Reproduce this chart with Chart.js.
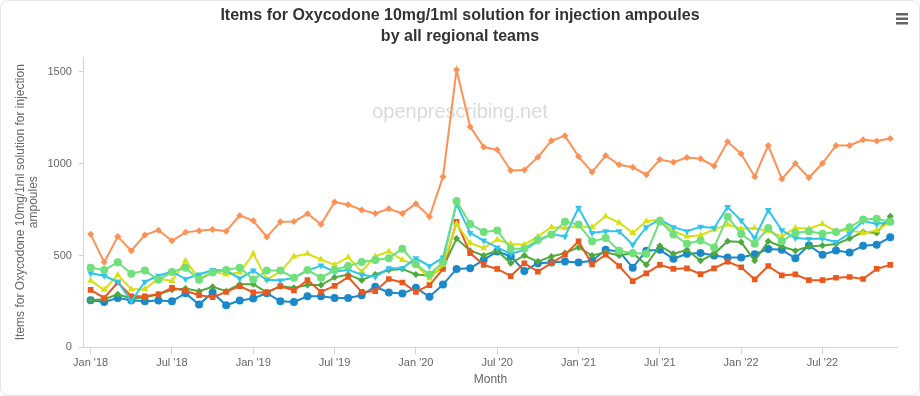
<!DOCTYPE html>
<html>
<head>
<meta charset="utf-8">
<script src="https://cdn.jsdelivr.net/npm/chart.js@4.4.1/dist/chart.umd.min.js"></script>
<style>
  html, body { margin: 0; padding: 0; background: #fff; }
  #wrap {
    position: relative; width: 920px; height: 396px; box-sizing: border-box;
    border: 1px solid #e4e4e4; border-radius: 8px; overflow: hidden;
  }
  #chart { position: absolute; left: 0; top: 0; }
</style>
</head>
<body>
<div id="wrap"><canvas id="chart" width="918" height="394"></canvas></div>
<script>
// месяцы Jan 2018 .. Dec 2022
const months = [
    'Jan 2018', 'Feb 2018', 'Mar 2018', 'Apr 2018', 'May 2018', 'Jun 2018', 'Jul 2018', 'Aug 2018', 'Sep 2018', 'Oct 2018', 'Nov 2018', 'Dec 2018',
    'Jan 2019', 'Feb 2019', 'Mar 2019', 'Apr 2019', 'May 2019', 'Jun 2019', 'Jul 2019', 'Aug 2019', 'Sep 2019', 'Oct 2019', 'Nov 2019', 'Dec 2019',
    'Jan 2020', 'Feb 2020', 'Mar 2020', 'Apr 2020', 'May 2020', 'Jun 2020', 'Jul 2020', 'Aug 2020', 'Sep 2020', 'Oct 2020', 'Nov 2020', 'Dec 2020',
    'Jan 2021', 'Feb 2021', 'Mar 2021', 'Apr 2021', 'May 2021', 'Jun 2021', 'Jul 2021', 'Aug 2021', 'Sep 2021', 'Oct 2021', 'Nov 2021', 'Dec 2021',
    'Jan 2022', 'Feb 2022', 'Mar 2022', 'Apr 2022', 'May 2022', 'Jun 2022', 'Jul 2022', 'Aug 2022', 'Sep 2022', 'Oct 2022', 'Nov 2022', 'Dec 2022'
];
const tickLabels = ["Jan '18", "Jul '18", "Jan '19", "Jul '19", "Jan '20", "Jul '20", "Jan '21", "Jul '21", "Jan '22", "Jul '22"];
const yTicks = [0, 500, 1000, 1500];
const titleLines = ['Items for Oxycodone 10mg/1ml solution for injection ampoules', 'by all regional teams'];

// значения по регионам
const eastOfEngland = [
    256, 247, 269, 256, 251, 255, 251, 295, 233, 299, 229, 255, 266, 295, 251, 247, 278, 278, 269, 269,
    284, 330, 299, 293, 324, 275, 342, 427, 430, 476, 522, 495, 416, 458, 462, 467, 462, 471, 531, 522,
    434, 526, 531, 482, 509, 513, 500, 489, 489, 507, 535, 531, 485, 555, 504, 527, 516, 553, 559, 599
];
const london = [
    256, 262, 289, 266, 271, 289, 313, 321, 306, 330, 306, 344, 344, 299, 333, 324, 339, 339, 381, 397,
    366, 397, 421, 427, 397, 390, 434, 592, 526, 500, 526, 458, 500, 467, 495, 513, 544, 500, 518, 500,
    513, 449, 553, 509, 531, 471, 509, 577, 573, 471, 577, 549, 526, 549, 555, 562, 592, 628, 623, 714
];
const midlands = [
    313, 269, 353, 278, 278, 289, 324, 308, 284, 273, 302, 333, 299, 299, 333, 310, 366, 302, 335, 383,
    302, 306, 372, 353, 302, 339, 427, 683, 513, 449, 427, 388, 458, 412, 458, 504, 577, 452, 504, 443,
    361, 403, 449, 427, 430, 399, 430, 467, 436, 370, 443, 392, 397, 366, 366, 379, 383, 372, 427, 449
];
const northEastYorkshire = [
    363, 313, 394, 317, 317, 375, 361, 471, 375, 412, 397, 407, 509, 370, 412, 495, 509, 478, 449, 491,
    412, 495, 522, 476, 449, 375, 449, 672, 568, 540, 586, 562, 559, 604, 654, 650, 659, 654, 714, 678,
    623, 687, 696, 632, 604, 610, 641, 668, 646, 650, 632, 604, 650, 646, 672, 632, 637, 623, 636, 683
];
const northWest = [
    403, 390, 357, 251, 357, 390, 412, 372, 397, 421, 418, 375, 418, 368, 364, 379, 418, 445, 412, 423,
    395, 385, 430, 430, 485, 443, 489, 780, 623, 581, 544, 509, 531, 577, 617, 604, 760, 623, 632, 632,
    559, 654, 696, 654, 632, 656, 650, 764, 690, 595, 747, 637, 595, 590, 592, 573, 619, 687, 672, 683
];
const southEast = [
    434, 421, 463, 401, 418, 368, 410, 434, 368, 408, 421, 434, 370, 418, 418, 379, 421, 379, 421, 443,
    465, 476, 485, 537, 452, 397, 463, 797, 672, 628, 636, 537, 537, 586, 614, 683, 668, 577, 595, 526,
    513, 509, 687, 614, 564, 582, 544, 711, 617, 564, 650, 577, 623, 632, 619, 628, 654, 696, 700, 683
];
const southWest = [
    615, 463, 603, 526, 612, 637, 580, 626, 635, 641, 632, 718, 689, 601, 683, 685, 727, 670, 791, 776,
    748, 729, 754, 729, 782, 711, 929, 1510, 1201, 1090, 1075, 962, 965, 1035, 1124, 1152, 1038, 954, 1044, 994,
    980, 940, 1022, 1007, 1033, 1026, 987, 1119, 1053, 929, 1099, 916, 1000, 923, 1002, 1099, 1099, 1130, 1123, 1137
];

const axisColor = '#ccd6eb';
const textColor = '#666666';
const font = '"Liberation Sans", Arial, sans-serif';

// серия: имя, данные, цвет, маркер
function series(label, data, color, style, rotation) {
    return {
        label: label,
        data: data,
        borderColor: color,
        backgroundColor: color,
        borderWidth: 2,
        pointStyle: style,
        pointRotation: rotation || 0,
        pointRadius: style === 'rectRot' ? 3.5 : 4,
        pointBorderWidth: 0,
        pointHoverRadius: 5,
        tension: 0
    };
}

// заголовок по центру страницы, водяной знак и иконка меню
const extras = {
    id: 'extras',
    beforeDatasetsDraw(chart) {
        const ctx = chart.ctx;
        ctx.save();
        ctx.font = '20px ' + font;
        ctx.fillStyle = '#dadada';
        ctx.textAlign = 'center';
        ctx.textBaseline = 'middle';
        ctx.fillText('openprescribing.net', 459, 111);
        ctx.restore();
    },
    afterDraw(chart) {
        const ctx = chart.ctx;
        ctx.save();
        ctx.font = 'bold 16px ' + font;
        ctx.fillStyle = '#333333';
        ctx.textAlign = 'center';
        ctx.textBaseline = 'middle';
        titleLines.forEach((line, i) => ctx.fillText(line, 459, 15 + i * 21));
        ctx.fillStyle = '#666';
        for (let i = 0; i < 3; i++) {
            ctx.fillRect(895, 12 + i * 4.5, 12, 2.5);
        }
        ctx.restore();
    }
};

const ctx = document.getElementById('chart').getContext('2d');
new Chart(ctx, {
    type: 'line',
    data: {
        labels: months,
        // первая серия рисуется поверх
        datasets: [
            series('South West', southWest, '#fc9156', 'rectRot'),
            series('South East', southEast, '#6fe07b', 'circle'),
            series('North West', northWest, '#30c5ea', 'triangle', 180),
            series('North East and Yorkshire', northEastYorkshire, '#d6e014', 'triangle'),
            series('Midlands', midlands, '#ea581d', 'rect'),
            series('London', london, '#4ea93c', 'rectRot'),
            series('East of England', eastOfEngland, '#1b89c9', 'circle')
        ]
    },
    plugins: [extras],
    options: {
        responsive: false,
        animation: false,
        layout: { padding: { left: 13, right: 22, top: 56, bottom: 8 } },
        plugins: {
            legend: { display: false },
            tooltip: { enabled: false },
            title: { display: false }
        },
        scales: {
            x: {
                offset: true,
                border: { color: axisColor },
                grid: {
                    offset: false,
                    drawOnChartArea: false,
                    tickLength: 7,
                    color: c => (c.index % 6 === 0 ? axisColor : 'transparent')
                },
                ticks: {
                    autoSkip: false,
                    maxRotation: 0,
                    minRotation: 0,
                    padding: 2,
                    color: textColor,
                    font: { family: font, size: 11 },
                    callback: (val, idx) => (idx % 6 === 0 ? tickLabels[idx / 6] : '')
                },
                title: {
                    display: true,
                    text: 'Month',
                    color: textColor,
                    font: { family: font, size: 12 },
                    padding: { top: 1, bottom: 0 }
                }
            },
            y: {
                min: 0,
                max: 1580,
                border: { color: axisColor },
                afterBuildTicks: axis => { axis.ticks = yTicks.map(v => ({ value: v })); },
                grid: { drawOnChartArea: false, tickLength: 5, color: axisColor },
                ticks: {
                    padding: 7,
                    color: textColor,
                    font: { family: font, size: 11 },
                    callback: v => String(v)
                },
                title: {
                    display: true,
                    text: ['Items for Oxycodone 10mg/1ml solution for injection', 'ampoules'],
                    color: textColor,
                    font: { family: font, size: 12, lineHeight: 1.1 },
                    padding: { top: 0, bottom: 0 }
                }
            }
        }
    }
});
</script>
</body>
</html>
